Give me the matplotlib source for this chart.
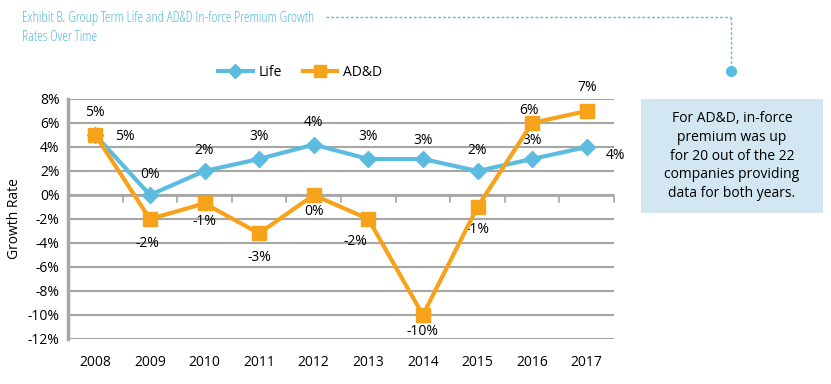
import numpy as np
import matplotlib.pyplot as plt
from matplotlib.patches import Rectangle
from matplotlib.lines import Line2D

years = ['2008', '2009', '2010', '2011', '2012', '2013', '2014', '2015', '2016', '2017']
life = [5.0, 0.0, 2.0, 3.0, 4.2, 3.0, 3.0, 2.0, 3.0, 4.0]
add = [5.0, -2.0, -0.7, -3.2, 0.0, -2.0, -10.0, -1.0, 6.0, 7.0]
life_labels = ['5%', '0%', '2%', '3%', '4%', '3%', '3%', '2%', '3%', '4%']
add_labels = ['5%', '-2%', '-1%', '-3%', '0%', '-2%', '-10%', '-1%', '6%', '7%']
yticks = [8, 6, 4, 2, 0, -2, -4, -6, -8, -10, -12]

# label offsets in points (dx, dy)
life_off = [(21, -1), (0, 15), (0, 15), (0, 16), (0, 16), (0, 16), (0, 13), (0, 15), (0, 13), (21, -6)]
add_off = [(0, 16), (-2, -18), (0, -13), (0, -17), (0, -12), (-9, -16), (0, -12), (0, -16), (-2, 9), (0, 17)]

blue = '#5bbcdf'
orange = '#f7a21b'
grid = '#a6a6a6'

plt.rcParams['font.family'] = ['Open Sans', 'DejaVu Sans']

fig = plt.figure(figsize=(8.31, 3.84), dpi=100)
ax = fig.add_axes([68 / 831, 1 - 339 / 384, 546 / 831, 240 / 384])

x = np.arange(len(years))
ax.plot(x, life, color=blue, lw=3, marker='D', ms=8, mec=blue, zorder=3, label='Life')
ax.plot(x, add, color=orange, lw=3, marker='s', ms=10, mec=orange, zorder=4, label='AD&D')

for i in range(len(years)):
    ax.annotate(life_labels[i], (x[i], life[i]), xytext=life_off[i], textcoords='offset points',
                ha='center', va='center', fontsize=10)
    ax.annotate(add_labels[i], (x[i], add[i]), xytext=add_off[i], textcoords='offset points',
                ha='center', va='center', fontsize=10)

ax.set_xlim(-0.5, len(years) - 0.5)
ax.set_ylim(-12, 8)
ax.set_yticks(yticks)
ax.set_yticklabels([f'{v}%' for v in yticks], fontsize=10)
ax.set_xticks([])
for v in yticks:
    ax.axhline(v, color=grid, lw=1.5, zorder=1)
# x axis crossing at 0 with tick marks between categories
ax.axhline(0, color=grid, lw=2, zorder=1)
for b in np.arange(0.5, len(years) - 0.4, 1):
    ax.plot([b, b], [0, -0.6], color=grid, lw=1.2, zorder=1, clip_on=False)
for i, yr in enumerate(years):
    ax.text(x[i], -14.0, yr, ha='center', va='center', fontsize=10)

for s in ['top', 'right', 'bottom']:
    ax.spines[s].set_visible(False)
ax.spines['left'].set_color(grid)
ax.spines['left'].set_linewidth(2.5)
ax.tick_params(axis='y', length=0, pad=6)
ax.set_ylabel('Growth Rate', fontsize=10, labelpad=4)

handles = [Line2D([0], [0], color=blue, lw=3, marker='D', ms=7),
           Line2D([0], [0], color=orange, lw=3, marker='s', ms=9)]
fig.legend(handles, ['Life', 'AD&D'], loc='center', bbox_to_anchor=(300 / 831, 1 - 72 / 384),
           ncol=2, frameon=False, fontsize=10, handlelength=2.5, columnspacing=1.5, handletextpad=0.4)

fig.text(22 / 831, 1 - 28 / 384, 'Exhibit B. Group Term Life and AD&D In-force Premium Growth\nRates Over Time',
         color=blue, fontsize=10.5, ha='left', va='center', linespacing=1.35,
         fontstretch='condensed')
# callout leader
fig.add_artist(Line2D([326 / 831, 731 / 831], [1 - 17 / 384, 1 - 17 / 384], color=blue, lw=1, ls=(0, (2, 1.5))))
fig.add_artist(Line2D([731 / 831, 731 / 831], [1 - 17 / 384, 1 - 70 / 384], color=blue, lw=1, ls=(0, (2, 1.5))))
fig.add_artist(Line2D([731 / 831], [1 - 71 / 384], color=blue, marker='o', ms=7, lw=0))

fig.add_artist(Rectangle((641 / 831, 1 - 213 / 384), 182 / 831, 114 / 384, color='#d2e7f2', lw=0))
fig.text(732 / 831, 1 - 156 / 384,
         'For AD&D, in-force\npremium was up\nfor 20 out of the 22\ncompanies providing\ndata for both years.',
         ha='center', va='center', fontsize=10, linespacing=1.35)

fig.savefig('out.png', dpi=100)
